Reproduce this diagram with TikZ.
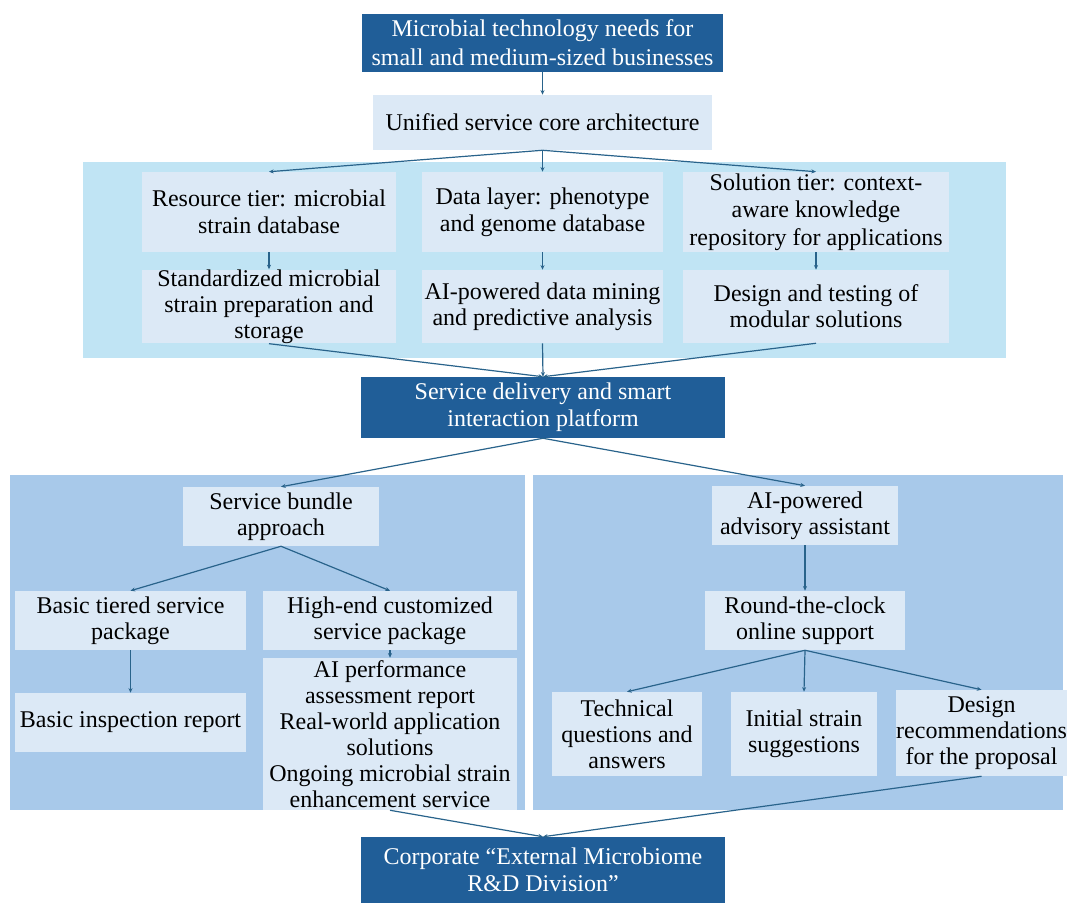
\documentclass[tikz,border=0pt]{standalone}
\usepackage{fontspec}
\setmainfont{Liberation Serif}
\usetikzlibrary{arrows.meta}

\definecolor{darkbox}{RGB}{32,94,152}
\definecolor{lightbox}{RGB}{220,233,246}
\definecolor{cyanpanel}{RGB}{192,228,244}
\definecolor{bluepanel}{RGB}{168,201,234}
\definecolor{linkcol}{RGB}{41,99,139}

% box given by its corners (in px units): name, x1, y1, x2, y2, style, text
\newcommand{\pbox}[7]{%
  \node[#6, minimum width={(#4-#2)*0.75pt}, minimum height={(#5-#3)*0.75pt}]
    (#1) at ({(#2+#4)/2},{(#3+#5)/2}) {#7};}
% plain filled rectangle for background panels
\newcommand{\panel}[6]{%
  \node[fill=#6, inner sep=0pt, minimum width={(#4-#2)*0.75pt}, minimum height={(#5-#3)*0.75pt}]
    (#1) at ({(#2+#4)/2},{(#3+#5)/2}) {};}

\tikzset{
  txt/.style={inner sep=0pt, align=center, font=\fontsize{18pt}{19.5pt}\selectfont},
  widetxt/.style={font=\fontsize{18pt}{20.5pt}\selectfont},
  lightnode/.style={txt, fill=lightbox, text=black},
  darknode/.style={txt, fill=darkbox, text=white, widetxt},
  link/.style={draw=linkcol, line width=0.9pt, -{Stealth[length=3.5pt,width=3pt]}},
}

\begin{document}
\begin{tikzpicture}[x=0.75pt, y=-0.75pt]
\useasboundingbox (0,0) rectangle (1067,903);

% background panels
\panel{panelA}{83}{162}{1006}{358}{cyanpanel}
\panel{panelL}{10}{475}{525}{810}{bluepanel}
\panel{panelR}{533}{475}{1063}{810}{bluepanel}

% top part
\pbox{top}{362}{14}{723}{72}{darknode, font=\fontsize{18pt}{21.5pt}\selectfont}{Microbial technology needs for\\small and medium-sized businesses}
\pbox{core}{373}{95}{712}{150}{lightnode}{Unified service core architecture}

\pbox{res}{142}{172}{396}{252}{lightnode, widetxt}{Resource tier: microbial\\strain database}
\pbox{data}{422}{172}{663}{252}{lightnode, widetxt}{Data layer: phenotype\\and genome database}
\pbox{sol}{683}{172}{949}{252}{lightnode, widetxt}{Solution tier: context-\\aware knowledge\\repository for applications}

\pbox{std}{142}{270}{396}{343}{lightnode}{Standardized microbial\\strain preparation and\\storage}
\pbox{aimine}{422}{270}{663}{343}{lightnode}{AI-powered data mining\\and predictive analysis}
\pbox{modsol}{683}{270}{949}{343}{lightnode}{Design and testing of\\modular solutions}

\pbox{sdp}{361}{377}{725}{438}{darknode}{Service delivery and smart\\interaction platform}

% left branch
\pbox{bundle}{183}{487}{379}{546}{lightnode}{Service bundle\\approach}
\pbox{basic}{15}{591}{246}{650}{lightnode}{Basic tiered service\\package}
\pbox{high}{263}{591}{517}{650}{lightnode}{High-end customized\\service package}
\pbox{insp}{15}{693}{246}{752}{lightnode}{Basic inspection report}
\pbox{perf}{263}{658}{517}{810}{lightnode}{AI performance\\assessment report\\Real-world application\\solutions\\Ongoing microbial strain\\enhancement service}

% right branch
\pbox{adv}{712}{486}{898}{545}{lightnode}{AI-powered\\advisory assistant}
\pbox{round}{705}{591}{905}{650}{lightnode}{Round-the-clock\\online support}
\pbox{tech}{552}{692}{702}{776}{lightnode}{Technical\\questions and\\answers}
\pbox{init}{731}{692}{877}{776}{lightnode}{Initial strain\\suggestions}
\pbox{drec}{897}{690}{1066}{776}{lightnode}{Design\\recommendations\\for the proposal}

% bottom
\pbox{corp}{361}{837}{725}{903}{darknode}{Corporate “External Microbiome\\R\&D Division”}

% connectors
\draw[link] (top.south) -- (core.north);
\draw[link] (core.south) -- (res.north);
\draw[link] (core.south) -- (data.north);
\draw[link] (core.south) -- (sol.north);
\draw[link] (res.south) -- (std.north);
\draw[link] (data.south) -- (aimine.north);
\draw[link] (sol.south) -- (modsol.north);
\draw[link] (std.south) -- (sdp.north);
\draw[link] (aimine.south) -- (sdp.north);
\draw[link] (modsol.south) -- (sdp.north);
\draw[link] (sdp.south) -- (bundle.north);
\draw[link] (sdp.south) -- (adv.north);
\draw[link] (bundle.south) -- (basic.north);
\draw[link] (bundle.south) -- (high.north);
\draw[link] (basic.south) -- (insp.north);
\draw[link] (high.south) -- (perf.north);
\draw[link] (adv.south) -- (round.north);
\draw[link] (round.south) -- (tech.north);
\draw[link] (round.south) -- (init.north);
\draw[link] (round.south) -- (drec.north);
\draw[link] (perf.south) -- (corp.north);
\draw[link] (drec.south) -- (corp.north);
\end{tikzpicture}
\end{document}
